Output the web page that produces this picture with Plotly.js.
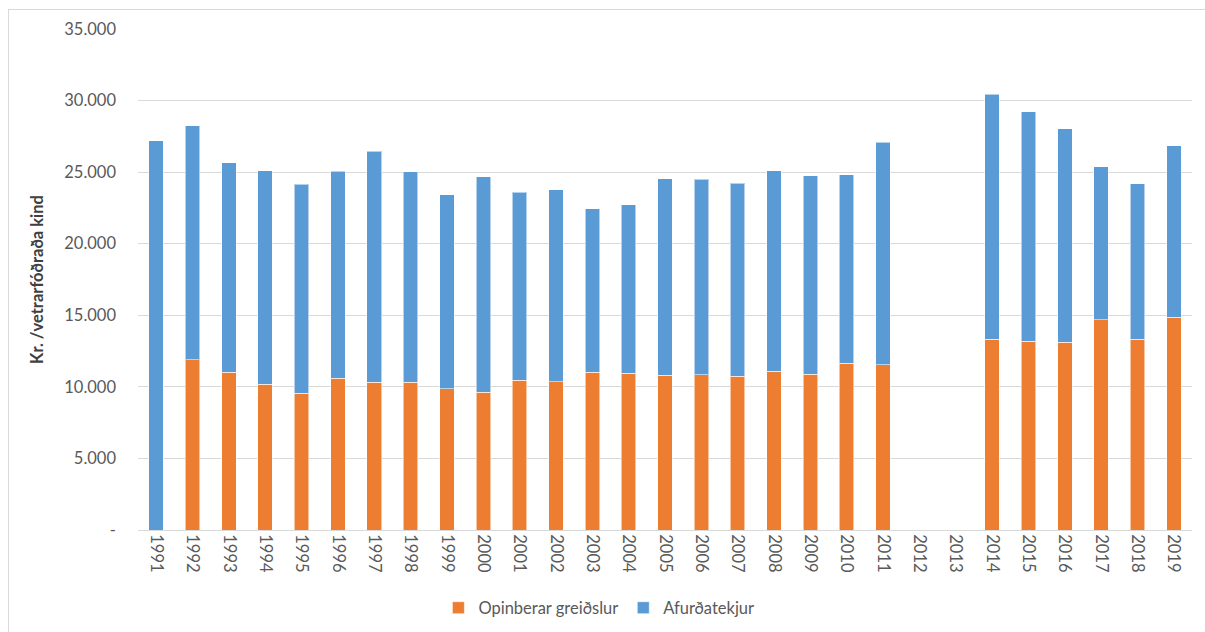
<!DOCTYPE html>
<html>
<head>
<meta charset="utf-8">
<script src="https://cdn.plot.ly/plotly-3.0.1.min.js"></script>
<style>
html,body{margin:0;padding:0;background:#fff;overflow:hidden;}
#chart{width:1205px;height:632px;position:relative;}
#frame{position:absolute;left:8px;top:9px;width:1230px;height:660px;border:1px solid #d9d9d9;pointer-events:none;box-sizing:border-box;}
</style>
</head>
<body>
<div style="position:relative;width:1205px;height:632px;overflow:hidden;">
<div id="chart"></div>
<div id="frame"></div>
</div>
<script>
const years = ['1991','1992','1993','1994','1995','1996','1997','1998','1999','2000','2001','2002','2003','2004','2005','2006','2007','2008','2009','2010','2011','2012','2013','2014','2015','2016','2017','2018','2019'];
const opinberarGreidslur = [0,11910,11010,10170,9570,10610,10310,10310,9870,9610,10470,10340,11030,10940,10800,10850,10730,11100,10890,11660,11560,null,null,13310,13170,13130,14690,13310,14850];
const heildarTekjur = [27210,28230,25670,25090,24160,25070,26470,25020,23410,24670,23580,23760,22440,22720,24530,24510,24230,25090,24740,24830,27090,null,null,30450,29230,28040,25390,24200,26860];
const afurdatekjur = heildarTekjur.map((t,i)=> t===null ? null : t - opinberarGreidslur[i]);
const yTickVals = [0,5000,10000,15000,20000,25000,30000,35000];
const yTickText = ['-','5.000','10.000','15.000','20.000','25.000','30.000','35.000'];

const font = 'Lato, "Open Sans", sans-serif';
const edge = {color:'rgba(255,255,255,0.55)', width:1};
const traces = [
  {type:'bar', name:'Opinberar greiðslur', x:years, y:opinberarGreidslur, marker:{color:'#ED7D31', line:edge}},
  {type:'bar', name:'Afurðatekjur', x:years, y:afurdatekjur, marker:{color:'#5B9BD5', line:edge}}
];
const layout = {
  width:1205, height:632,
  margin:{l:138, r:13, t:29, b:102},
  paper_bgcolor:'rgba(0,0,0,0)', plot_bgcolor:'rgba(0,0,0,0)',
  barmode:'stack', bargap:0.6,
  font:{family:font, size:16.5, color:'#595959'},
  showlegend:true,
  legend:{orientation:'h', traceorder:'normal', xref:'container', yref:'container', x:0.497, xanchor:'center', y:0.038, yanchor:'middle', font:{size:16.5, color:'#595959'}, itemwidth:30},
  xaxis:{type:'category', tickangle:90, showgrid:false, showline:true, linecolor:'#d9d9d9', linewidth:1, ticks:'', tickfont:{size:16.5, color:'#595959'}},
  yaxis:{range:[0,35000], tickvals:yTickVals, ticktext:yTickText, showgrid:true, gridcolor:'#d9d9d9', gridwidth:1, zeroline:false, showline:false, ticks:'', ticklabelstandoff:21, tickfont:{size:16.5, color:'#595959'},
    title:{text:'Kr. /vetrarfóðraða kind', font:{size:16.5, color:'#404040', family:font, weight:'bold'}, standoff:16}}
};
Plotly.newPlot('chart', traces, layout, {displayModeBar:false, staticPlot:true});
</script>
</body>
</html>
